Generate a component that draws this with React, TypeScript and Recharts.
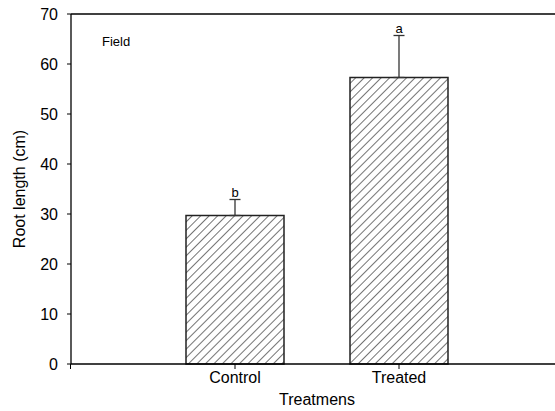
import React from "react";
import {
  BarChart,
  Bar,
  XAxis,
  YAxis,
  ErrorBar,
  LabelList,
  Label,
  ReferenceLine,
} from "recharts";

const categories = ["Control", "Treated"];
const rootLength = [29.7, 57.3];
const rootError = [3.2, 8.4];
const letters = ["b", "a"];
const yTicks = [0, 10, 20, 30, 40, 50, 60, 70];

const data = categories.map((name, i) => ({
  name,
  value: rootLength[i],
  err: [0, rootError[i]],
}));

const font = "'Liberation Sans', Arial, sans-serif";

// letter sits just above the error bar cap
function LetterLabel(props: any) {
  const { x, y, width, height, value, index } = props;
  const perUnit = height / value;
  const top = y - rootError[index] * perUnit;
  return (
    <text
      x={x + width / 2}
      y={top - 3}
      textAnchor="middle"
      fontSize={13}
      fontFamily={font}
      fill="#000"
    >
      {letters[index]}
    </text>
  );
}

export default function App() {
  return (
    <div
      style={{
        position: "absolute",
        left: 0,
        top: 0,
        width: 555,
        height: 411,
        background: "#fff",
        fontFamily: font,
      }}
    >
      <BarChart
        width={555}
        height={411}
        data={data}
        margin={{ top: 14, right: 0, left: 0, bottom: 0 }}
      >
        <defs>
          <pattern
            id="hatch"
            patternUnits="userSpaceOnUse"
            width={6}
            height={6}
            patternTransform="rotate(45)"
          >
            <rect width={6} height={6} fill="#fff" />
            <line x1={0} y1={0} x2={0} y2={6} stroke="#000" strokeWidth={1.1} />
          </pattern>
        </defs>
        <XAxis
          dataKey="name"
          height={47}
          padding={{ left: 82, right: 74 }}
          axisLine={{ stroke: "#000", strokeWidth: 1.3 }}
          tickLine={{ stroke: "#000" }}
          tickSize={5}
          tickMargin={3}
          tick={{ fontSize: 16, fill: "#000", fontFamily: font }}
        >
          <Label
            value="Treatmens"
            position="insideBottom"
            offset={6}
            dx={4}
            style={{ fontSize: 16, fill: "#000", fontFamily: font }}
          />
        </XAxis>
        <YAxis
          width={71}
          domain={[0, 70]}
          ticks={yTicks}
          interval={0}
          axisLine={{ stroke: "#000", strokeWidth: 1.3 }}
          tickLine={{ stroke: "#000" }}
          tickSize={4}
          tickMargin={9}
          tick={{ fontSize: 16, fill: "#000", fontFamily: font }}
        >
          <Label
            value="Root length (cm)"
            angle={-90}
            position="insideLeft"
            offset={19}
            style={{
              fontSize: 16,
              fill: "#000",
              fontFamily: font,
              textAnchor: "middle",
            }}
          />
        </YAxis>
        <ReferenceLine y={70} stroke="#000" strokeWidth={1.3} />
        <Bar
          dataKey="value"
          barSize={98}
          fill="url(#hatch)"
          stroke="#222"
          strokeWidth={1.5}
          isAnimationActive={false}
        >
          <ErrorBar
            dataKey="err"
            width={5.5}
            stroke="#333"
            strokeWidth={1.3}
            direction="y"
          />
          <LabelList dataKey="value" content={<LetterLabel />} />
        </Bar>
      </BarChart>
      {/* small tick below the axis corner */}
      <div
        style={{
          position: "absolute",
          left: 70,
          top: 364,
          width: 1,
          height: 5,
          background: "#000",
        }}
      />
      <div
        style={{
          position: "absolute",
          left: 102,
          top: 35,
          fontSize: 13,
          lineHeight: "13px",
          color: "#000",
        }}
      >
        Field
      </div>
    </div>
  );
}
